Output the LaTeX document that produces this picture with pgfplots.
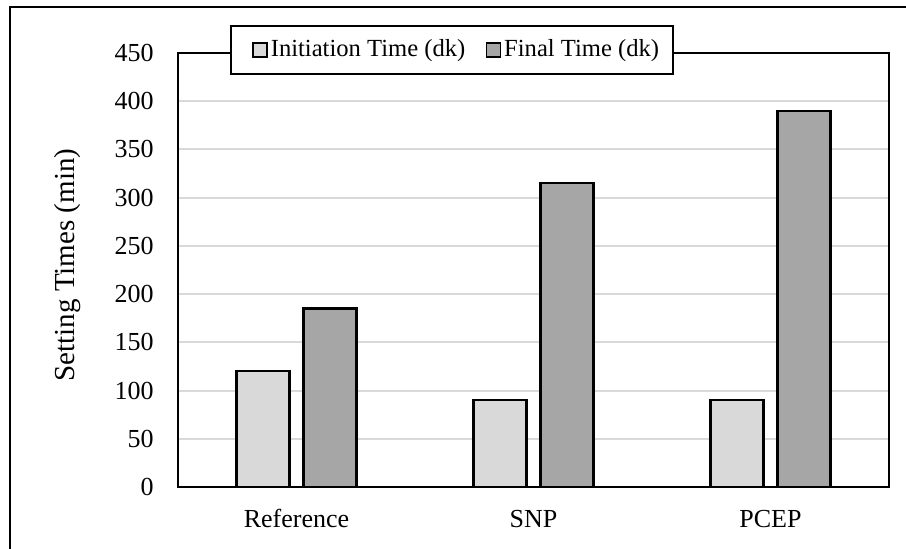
\documentclass[border=0pt]{standalone}
\usepackage{pgfplots}
\pgfplotsset{compat=1.18}
\usepackage{fontspec}
\setmainfont{Liberation Serif}
\definecolor{lightbar}{HTML}{D9D9D9}
\definecolor{darkbar}{HTML}{A6A6A6}
\definecolor{gridc}{HTML}{D9D9D9}
\begin{document}
\begin{tikzpicture}
\useasboundingbox (-89pt,-31pt) rectangle (364pt,243.5pt);
\draw[line width=1pt] (-84pt,-40pt) -- (-84pt,240pt) -- (370pt,240pt);
\begin{axis}[
  at={(0pt,0pt)}, anchor=south west,
  scale only axis,
  width=355.5pt, height=217pt,
  ybar=7pt, bar width=26.5pt,
  xmin=-0.5, xmax=2.5,
  ymin=0, ymax=450,
  xtick=data,
  xticklabels={Reference,SNP,PCEP},
  ytick={0,50,...,450},
  major tick length=0pt,
  ymajorgrids,
  major grid style={draw=gridc, line width=1pt},
  axis line style={line width=1pt},
  /pgf/number format/assume math mode=true,
  yticklabel style={font=\fontsize{13}{15}\selectfont, anchor=east, inner sep=0pt, xshift=-12pt},
  xticklabel style={font=\fontsize{13}{15}\selectfont, anchor=base, inner sep=0pt, yshift=-20.5pt},
  ylabel={Setting Times (min)},
  ylabel style={font=\fontsize{14.5}{16}\selectfont, at={(axis description cs:-0.156,0.5115)}, anchor=center},
  legend columns=2,
  legend image code/.code={\path (0pt,0pt); \draw[#1, line width=0.7pt, draw=black] (5pt,-3.5pt) rectangle (12pt,3.5pt);},
  legend style={
    at={(axis description cs:0.3854,1.007)}, anchor=center,
    draw=black, line width=1pt, fill=white,
    font=\fontsize{12.3}{14}\selectfont,
    inner xsep=5.5pt, inner ysep=5.5pt,
    nodes={inner sep=1.5pt},
    /tikz/every even column/.append style={column sep=3.5pt},
  },
]
\addplot[fill=lightbar, draw=black, line width=1.2pt] coordinates {(0,120) (1,90) (2,90)};
\addplot[fill=darkbar, draw=black, line width=1.2pt] coordinates {(0,185) (1,315) (2,390)};
\legend{Initiation Time (dk), Final Time (dk)}
\end{axis}
\end{tikzpicture}
\end{document}
